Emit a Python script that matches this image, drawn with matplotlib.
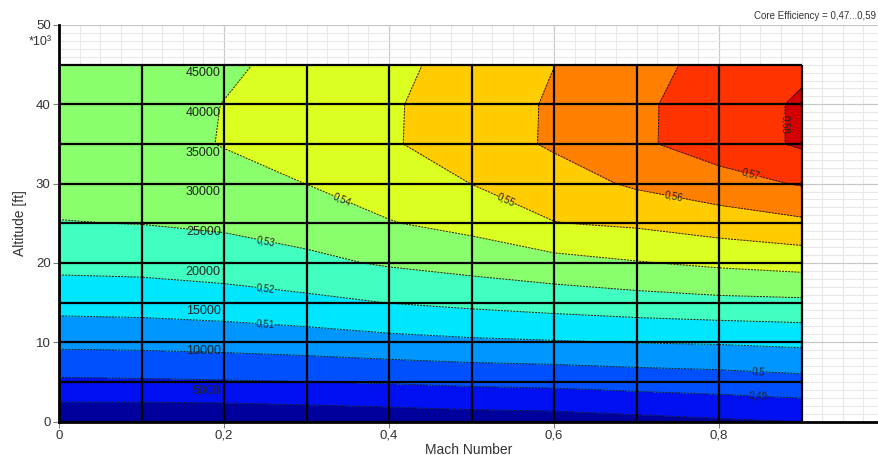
import numpy as np
import matplotlib
matplotlib.use("Agg")
import matplotlib.pyplot as plt
from matplotlib.colors import ListedColormap, BoundaryNorm
from matplotlib.ticker import MultipleLocator, FuncFormatter

plt.rcParams['font.family'] = ['Liberation Sans', 'DejaVu Sans']

# Flight envelope grid: Mach number (columns) and altitude in 1000 ft (rows)
mach = [0.0, 0.1, 0.2, 0.3, 0.4, 0.5, 0.6, 0.7, 0.8, 0.9]
altitude_kft = [0, 5, 10, 15, 20, 25, 30, 35, 40, 45]

# Core efficiency at each (altitude, Mach) node
eff_alt_0 = [0.4719, 0.4716, 0.4719, 0.4728, 0.4739, 0.4749, 0.4755, 0.4771, 0.4787, 0.4802]
eff_alt_5 = [0.4884, 0.4888, 0.4893, 0.4900, 0.4908, 0.4920, 0.4927, 0.4941, 0.4952, 0.4969]
eff_alt_10 = [0.5025, 0.5029, 0.5038, 0.5051, 0.5070, 0.5084, 0.5093, 0.5103, 0.5109, 0.5121]
eff_alt_15 = [0.5138, 0.5143, 0.5156, 0.5176, 0.5202, 0.5222, 0.5241, 0.5259, 0.5274, 0.5281]
eff_alt_20 = [0.5227, 0.5232, 0.5248, 0.5277, 0.5311, 0.5338, 0.5367, 0.5394, 0.5418, 0.5437]
eff_alt_25 = [0.5297, 0.5302, 0.5316, 0.5343, 0.5395, 0.5429, 0.5497, 0.5515, 0.5549, 0.5580]
eff_alt_30 = [0.5330, 0.5335, 0.5360, 0.5401, 0.5444, 0.5501, 0.5555, 0.5615, 0.5661, 0.5708]
eff_alt_35 = [0.5340, 0.5359, 0.5405, 0.5447, 0.5490, 0.5548, 0.5613, 0.5683, 0.5748, 0.5813]
eff_alt_40 = [0.5335, 0.5358, 0.5402, 0.5445, 0.5489, 0.5547, 0.5612, 0.5682, 0.5748, 0.5813]
eff_alt_45 = [0.5325, 0.5340, 0.5384, 0.5431, 0.5477, 0.5534, 0.5599, 0.5666, 0.5732, 0.5781]

eff_min, eff_max = 0.47, 0.59
levels = [0.47, 0.48, 0.49, 0.50, 0.51, 0.52, 0.53, 0.54, 0.55, 0.56, 0.57, 0.58, 0.59]
band_colors = ['#00009C', '#0010F0', '#0050FF', '#0096FF', '#00E6FF', '#40FFC0',
               '#8AFF6E', '#DAFF20', '#FFCC00', '#FF8000', '#FF3300', '#D40000']

# Where the contour values are written: (Mach, altitude)
label_spots = [(0.847, 2.9), (0.848, 6.2), (0.25, 12.1), (0.25, 16.5),
               (0.25, 22.2), (0.345, 28.4), (0.545, 28.6), (0.745, 28.5),
               (0.84, 31.6), (0.885, 37.5)]

eff = np.array([eff_alt_0, eff_alt_5, eff_alt_10, eff_alt_15, eff_alt_20,
                eff_alt_25, eff_alt_30, eff_alt_35, eff_alt_40, eff_alt_45])
M, H = np.meshgrid(mach, altitude_kft)


def comma(v):
    return f"{round(v, 2):g}".replace('.', ',')


fig = plt.figure(figsize=(8.79, 4.55), dpi=100)
ax = fig.add_axes([59 / 879, 1 - 421.5 / 455, 820 / 879, 396.5 / 455])

cmap = ListedColormap(band_colors)
norm = BoundaryNorm(levels, cmap.N)
ax.contourf(M, H, eff, levels=levels, cmap=cmap, norm=norm, zorder=2)
lines = ax.contour(M, H, eff, levels=levels[1:-1], colors='#1a1a1a',
                   linewidths=0.7, linestyles=[(0, (2.0, 1.2))], zorder=3)
ax.clabel(lines, manual=label_spots, inline=True, inline_spacing=1,
          fontsize=7, fmt=comma, colors='#222222')

# Heavy mesh lines over the computed region
ax.vlines(mach, altitude_kft[0], altitude_kft[-1], colors='black', linewidth=1.6, zorder=4)
ax.hlines(altitude_kft, mach[0], mach[-1], colors='black', linewidth=1.6, zorder=4)

# Altitude annotations along the Mach 0.2 line
for h in altitude_kft[1:]:
    ax.text(mach[2] - 0.004, h - 0.35, f"{h * 1000}", ha='right', va='top',
            fontsize=9, color='#222222', zorder=5)

ax.set_xlim(0, 0.9939)
ax.set_ylim(0, 50)
ax.xaxis.set_major_locator(MultipleLocator(0.2))
ax.xaxis.set_minor_locator(MultipleLocator(0.025))
ax.yaxis.set_major_locator(MultipleLocator(10))
ax.yaxis.set_minor_locator(MultipleLocator(1))
ax.xaxis.set_major_formatter(FuncFormatter(lambda v, p: comma(v) if v < 0.95 else ''))
ax.yaxis.set_major_formatter(FuncFormatter(lambda v, p: f"{v:g}"))
ax.grid(which='major', color='#c8c8c8', linewidth=0.9, zorder=0)
ax.grid(which='minor', color='#e8e8e8', linewidth=0.8, zorder=0)
ax.set_axisbelow(True)
ax.tick_params(which='major', length=4, color='#808080', labelsize=9.5,
               labelcolor='#333333', pad=2)
ax.tick_params(which='minor', length=0)

for side in ('top', 'right'):
    ax.spines[side].set_visible(False)
for side in ('left', 'bottom'):
    ax.spines[side].set_linewidth(2.0)
    ax.spines[side].set_color('black')
    ax.spines[side].set_zorder(6)

ax.set_xlabel('Mach Number', fontsize=10, color='#333333', labelpad=0.5)
ax.set_ylabel('Altitude [ft]', fontsize=10, color='#333333', labelpad=6)

fig.text(40 / 879, 1 - 42 / 455, '*10³', ha='center', va='center',
         fontsize=9, color='#333333')
fig.text(0.997, 1 - 16 / 455,
         f"Core Efficiency = {comma(eff_min)}...{comma(eff_max)}",
         ha='right', va='center', fontsize=7, color='#333333')

fig.savefig('out.png', dpi=100)
